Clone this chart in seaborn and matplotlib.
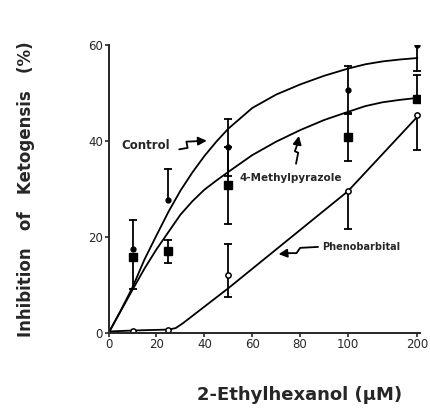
import numpy as np
import seaborn as sns
import matplotlib.pyplot as plt

# x values are on a broken scale: linear 0-100, compressed 100-200
tick_vals = [0, 20, 40, 60, 80, 100, 200]
tick_labels = ["0", "20", "40", "60", "80", "100", "200"]
y_ticks = [0, 20, 40, 60]

dose = [10, 25, 50, 100, 200]

control_y = [17.5, 27.6, 38.6, 50.5, 59.9]
control_lo = [0, 0, 6, 5, 5.5]
control_hi = [5.9, 6.6, 6, 5, 5.5]

mp_y = [15.7, 17.1, 30.7, 40.7, 48.6]
mp_lo = [6.5, 2.5, 8, 5, 0]
mp_hi = [0, 2.3, 8, 5, 5]

pheno_y = [0.5, 0.6, 12, 29.5, 45.3]
pheno_lo = [0, 0, 4.5, 7.8, 7.3]
pheno_hi = [0, 0, 6.6, 0, 0]

# fitted curves as drawn
control_cx = [0, 5, 10, 15, 20, 25, 30, 35, 40, 45, 50, 60, 70, 80, 90, 100, 125, 150, 175, 200]
control_cy = [0, 4.6, 9.5, 15.3, 20.3, 25.2, 29.6, 33.4, 36.8, 39.8, 42.5, 46.8, 49.6, 51.7, 53.5, 55,
              55.9, 56.5, 56.9, 57.2]
mp_cx = [0, 5, 10, 15, 20, 25, 30, 35, 40, 45, 50, 60, 70, 80, 90, 100, 125, 150, 175, 200]
mp_cy = [0, 4.5, 9, 13.4, 17.4, 21, 24.6, 27.4, 29.8, 31.7, 33.5, 37, 39.8, 42.2, 44.3, 46,
         47.2, 48, 48.5, 48.9]
pheno_cx = [0, 10, 25, 28, 31, 50, 100, 200]
pheno_cy = [0.3, 0.5, 0.7, 1.0, 2.0, 9.3, 29.5, 45]


def xpos(v):
    v = np.asarray(v, dtype=float)
    return np.where(v <= 100, v, 100 + (v - 100) * 0.29)


sns.set_style("ticks")
plt.rcParams['font.family'] = ['DejaVu Sans']

fig = plt.figure(figsize=(4.31, 4.09), dpi=100)
ax = fig.add_axes([0.252, 0.186, 0.722, 0.705])

for cx, cy in [(control_cx, control_cy), (mp_cx, mp_cy), (pheno_cx, pheno_cy)]:
    sns.lineplot(x=xpos(cx), y=cy, color="black", lw=1.3, sort=False, ax=ax)


def err(y, lo, hi):
    xs = xpos(dose)
    for x, yy, l, h in zip(xs, y, lo, hi):
        if l > 0:
            ax.plot([x, x], [yy - l, yy], color="black", lw=1.3)
            ax.plot(x, yy - l, marker="_", ms=6, mew=1.3, color="black")
        if h > 0:
            ax.plot([x, x], [yy, yy + h], color="black", lw=1.3)
            ax.plot(x, yy + h, marker="_", ms=6, mew=1.3, color="black")


err(control_y, control_lo, control_hi)
err(mp_y, mp_lo, mp_hi)
err(pheno_y, pheno_lo, pheno_hi)

ax.plot(xpos(dose), control_y, "o", ms=3.5, color="black", ls="none")
ax.plot(xpos(dose), mp_y, "s", ms=5.5, color="black", ls="none")
ax.plot(xpos(dose), pheno_y, "o", ms=3.8, mfc="white", mec="black", mew=1.1, ls="none")


def squiggle(pts, tip):
    xs = [p[0] for p in pts]
    ys = [p[1] for p in pts]
    ax.plot(xs, ys, color="black", lw=1.3)
    ax.annotate("", xy=tip, xytext=pts[-1],
                arrowprops=dict(arrowstyle="-|>,head_length=0.5,head_width=0.25",
                                color="black", lw=1.3, shrinkA=0, shrinkB=0))


ax.text(5.5, 39, "Control", fontsize=8.5, fontweight="bold", va="center", ha="left")
squiggle([(29.5, 38.2), (33, 38.5), (32.5, 39.8), (37, 39.9)], (41, 40))

ax.text(76, 32.3, "4-Methylpyrazole", fontsize=7.5, fontweight="bold", va="center", ha="center")
squiggle([(78.3, 35.2), (79.2, 37.5), (77.8, 37.8), (78.8, 39.2)], (79.5, 41))

ax.text(89, 17.8, "Phenobarbital", fontsize=7, fontweight="bold", va="center", ha="left")
squiggle([(87.5, 17.9), (80, 17.7), (78.5, 16.6), (75, 16.6)], (71, 16.4))

ax.set_xlim(0, 130)
ax.set_ylim(0, 60)
ax.set_xticks(xpos(tick_vals))
ax.set_xticklabels(tick_labels)
ax.set_yticks(y_ticks)
ax.tick_params(axis="both", labelsize=8.5, length=3, width=1.2, direction="out", pad=1)
for s in ["left", "bottom"]:
    ax.spines[s].set_linewidth(1.4)
sns.despine(ax=ax)

ax.set_ylabel("Inhibition   of   Ketogensis   (%)", fontsize=12, fontweight="bold")
ax.yaxis.set_label_coords(-0.235, 0.5)
ax.set_xlabel("2-Ethylhexanol (\u03bcM)", fontsize=13, fontweight="bold")
ax.xaxis.set_label_coords(0.615, -0.185)

fig.savefig("out.png", dpi=100)
